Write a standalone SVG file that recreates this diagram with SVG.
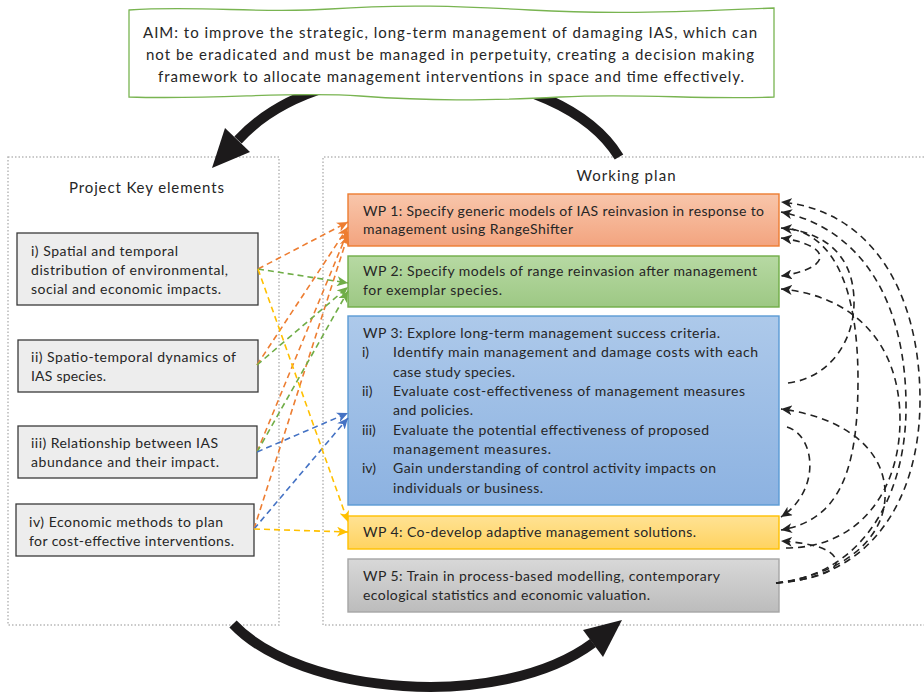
<svg xmlns="http://www.w3.org/2000/svg" width="924" height="696" viewBox="0 0 924 696">
<defs>
<style>
text{font-family:Lato,"Liberation Sans",sans-serif;fill:#262626}
.t14{font-size:14px}
.t15{font-size:15px}
.panel{fill:none;stroke:#b8b8b8;stroke-width:1.5;stroke-dasharray:1.5 2}
.key rect{fill:#ededed;stroke:#3a3a3a;stroke-width:1.3}
.wp{stroke-width:1.4}
.big{fill:none;stroke:#1c1a1b;stroke-width:10}
.bighead{fill:#1c1a1b}
.c{fill:none;stroke-width:1.6;stroke-dasharray:6 4}
.or{stroke:#ed7d31}
.gr{stroke:#70ad47}
.bl{stroke:#4472c4}
.ye{stroke:#ffc000}
.bk{fill:none;stroke:#222;stroke-width:1.6;stroke-dasharray:7 5}
</style>
<linearGradient id="g1" x1="0" y1="0" x2="0" y2="1"><stop offset="0" stop-color="#f8c6ab"/><stop offset="1" stop-color="#f3a47f"/></linearGradient>
<linearGradient id="g2" x1="0" y1="0" x2="0" y2="1"><stop offset="0" stop-color="#b7d9a3"/><stop offset="1" stop-color="#9dc884"/></linearGradient>
<linearGradient id="g3" x1="0" y1="0" x2="0" y2="1"><stop offset="0" stop-color="#adc9ea"/><stop offset="1" stop-color="#8cb2e1"/></linearGradient>
<linearGradient id="g4" x1="0" y1="0" x2="0" y2="1"><stop offset="0" stop-color="#ffe294"/><stop offset="1" stop-color="#ffd360"/></linearGradient>
<linearGradient id="g5" x1="0" y1="0" x2="0" y2="1"><stop offset="0" stop-color="#d8d8d8"/><stop offset="1" stop-color="#bcbcbc"/></linearGradient>
<marker id="mo" markerUnits="userSpaceOnUse" markerWidth="12" markerHeight="10" refX="11" refY="5" orient="auto"><path d="M0,0 L11,5 L0,10 L3,5 z" fill="#ed7d31"/></marker>
<marker id="mg" markerUnits="userSpaceOnUse" markerWidth="12" markerHeight="10" refX="11" refY="5" orient="auto"><path d="M0,0 L11,5 L0,10 L3,5 z" fill="#70ad47"/></marker>
<marker id="mb" markerUnits="userSpaceOnUse" markerWidth="12" markerHeight="10" refX="11" refY="5" orient="auto"><path d="M0,0 L11,5 L0,10 L3,5 z" fill="#4472c4"/></marker>
<marker id="my" markerUnits="userSpaceOnUse" markerWidth="12" markerHeight="10" refX="11" refY="5" orient="auto"><path d="M0,0 L11,5 L0,10 L3,5 z" fill="#ffc000"/></marker>
<marker id="mk" markerUnits="userSpaceOnUse" markerWidth="12" markerHeight="10" refX="11" refY="5" orient="auto-start-reverse"><path d="M0,0 L11,5 L0,10 L3,5 z" fill="#222"/></marker>
</defs>

<rect width="924" height="696" fill="#fff"/>

<g id="panel-left">
<rect class="panel" x="8" y="157" width="271" height="468"/>
<text class="t15" x="146.5" y="193" text-anchor="middle" textLength="155">Project Key elements</text>
</g>
<g id="panel-right">
<path class="panel" d="M924 157 H323 V625 H924"/>
<text class="t15" x="626" y="181" text-anchor="middle" textLength="99">Working plan</text>
</g>

<g id="cycle-arrows">
<path class="big" d="M619 157 C560 60 330 40 238 140"/>
<path class="bighead" d="M212 168 L250 152 L225 128 Z"/>
<path class="big" d="M233 624 C300 695 500 712 593 643"/>
<path class="bighead" d="M622 620 L583 630 L603 657 Z"/>
</g>

<g id="aim">
<path d="M129 10 C200 5 260 14 330 9 S460 6 530 10 S660 13 774 8 L774 97 C700 100 640 93 560 97 S430 101 360 96 S220 100 129 97 Z" fill="#fff" stroke="#79b451" stroke-width="1.3"/>
<text class="t15" x="450" y="38" text-anchor="middle" textLength="614">AIM: to improve the strategic, long-term management of damaging IAS, which can</text>
<text class="t15" x="450" y="60" text-anchor="middle" textLength="608">not be eradicated and must be managed in perpetuity, creating a decision making</text>
<text class="t15" x="451" y="82" text-anchor="middle" textLength="586">framework to allocate management interventions in space and time effectively.</text>
</g>

<g id="key1" class="key">
<rect x="17" y="233" width="241" height="72"/>
<text class="t14" x="31" y="256" textLength="147">i) Spatial and temporal</text>
<text class="t14" x="31" y="275" textLength="197">distribution of environmental,</text>
<text class="t14" x="31" y="294" textLength="190">social and economic impacts.</text>
</g>
<g id="key2" class="key">
<rect x="18" y="340" width="240" height="52"/>
<text class="t14" x="31" y="362" textLength="205">ii) Spatio-temporal dynamics of</text>
<text class="t14" x="31" y="381" textLength="75">IAS species.</text>
</g>
<g id="key3" class="key">
<rect x="18" y="426" width="239" height="52"/>
<text class="t14" x="31" y="448" textLength="187">iii) Relationship between IAS</text>
<text class="t14" x="31" y="467" textLength="188">abundance and their impact.</text>
</g>
<g id="key4" class="key">
<rect x="16" y="504" width="238" height="52"/>
<text class="t14" x="29" y="527" textLength="194">iv) Economic methods to plan</text>
<text class="t14" x="29" y="546" textLength="205">for cost-effective interventions.</text>
</g>

<g id="wp1">
<rect class="wp" x="348" y="194" width="431" height="52" fill="url(#g1)" stroke="#ed7d31"/>
<text class="t14" x="363" y="216" textLength="401">WP 1: Specify generic models of IAS reinvasion in response to</text>
<text class="t14" x="363" y="234" textLength="210">management using RangeShifter</text>
</g>
<g id="wp2">
<rect class="wp" x="348" y="256" width="431" height="51" fill="url(#g2)" stroke="#70ad47"/>
<text class="t14" x="363" y="276" textLength="394">WP 2: Specify models of range reinvasion after management</text>
<text class="t14" x="363" y="295" textLength="139">for exemplar species.</text>
</g>
<g id="wp3">
<rect class="wp" x="348" y="316" width="431" height="189" fill="url(#g3)" stroke="#5b9bd5"/>
<text class="t14" x="363" y="338" textLength="357">WP 3: Explore long-term management success criteria.</text>
<text class="t14" x="362" y="357">i)</text>
<text class="t14" x="393" y="357" textLength="365">Identify main management and damage costs with each</text>
<text class="t14" x="393" y="376.5" textLength="122">case study species.</text>
<text class="t14" x="362" y="396">ii)</text>
<text class="t14" x="393" y="396" textLength="352">Evaluate cost-effectiveness of management measures</text>
<text class="t14" x="393" y="415" textLength="80">and policies.</text>
<text class="t14" x="362" y="434.5">iii)</text>
<text class="t14" x="393" y="434.5" textLength="316">Evaluate the potential effectiveness of proposed</text>
<text class="t14" x="393" y="454" textLength="158">management measures.</text>
<text class="t14" x="362" y="473">iv)</text>
<text class="t14" x="393" y="473" textLength="323">Gain understanding of control activity impacts on</text>
<text class="t14" x="393" y="492.5" textLength="150">individuals or business.</text>
</g>
<g id="wp4">
<rect class="wp" x="348" y="516" width="431" height="33" fill="url(#g4)" stroke="#ffc000"/>
<text class="t14" x="363" y="537" textLength="333">WP 4: Co-develop adaptive management solutions.</text>
</g>
<g id="wp5">
<rect class="wp" x="348" y="559" width="431" height="53" fill="url(#g5)" stroke="#a5a5a5"/>
<text class="t14" x="363" y="581" textLength="357">WP 5: Train in process-based modelling, contemporary</text>
<text class="t14" x="363" y="600" textLength="287">ecological statistics and economic valuation.</text>
</g>

<g id="connectors">
<path class="c or" d="M258 269 L348 222" marker-end="url(#mo)"/>
<path class="c or" d="M257 365 L348 227" marker-end="url(#mo)"/>
<path class="c or" d="M257 452 L348 231" marker-end="url(#mo)"/>
<path class="c or" d="M254 529 L348 235" marker-end="url(#mo)"/>
<path class="c gr" d="M258 269 L348 283" marker-end="url(#mg)"/>
<path class="c gr" d="M257 365 L348 287" marker-end="url(#mg)"/>
<path class="c gr" d="M257 452 L348 291" marker-end="url(#mg)"/>
<path class="c bl" d="M257 452 L348 413" marker-end="url(#mb)"/>
<path class="c bl" d="M254 529 L348 418" marker-end="url(#mb)"/>
<path class="c ye" d="M258 269 L348 522" marker-end="url(#my)"/>
<path class="c ye" d="M254 529 L348 532" marker-end="url(#my)"/>

<path class="bk" d="M776 583 C870 578 920 500 920 400 C920 290 870 210 781 202" marker-end="url(#mk)"/>
<path class="bk" d="M776 583 C860 575 905 500 906 410 C907 300 860 228 781 212" marker-end="url(#mk)"/>
<path class="bk" d="M788 383 C830 378 855 340 854 300 C853 255 825 232 781 228" marker-end="url(#mk)"/>
<path class="bk" d="M792 229 C840 240 858 300 858 380 C858 470 840 520 781 530" marker-end="url(#mk)"/>
<path class="bk" d="M781 238 C832 245 834 268 781 276" marker-start="url(#mk)" marker-end="url(#mk)"/>
<path class="bk" d="M786 548 C860 548 900 490 900 420 C900 340 850 295 781 289" marker-end="url(#mk)"/>
<path class="bk" d="M787 427 C815 435 822 490 781 517" marker-end="url(#mk)"/>
<path class="bk" d="M776 583 C840 575 888 540 885 490 C882 440 830 415 781 409" marker-end="url(#mk)"/>
<path class="bk" d="M776 583 C810 580 840 572 836 560 C832 548 810 543 781 541" marker-end="url(#mk)"/>
</g>
</svg>
